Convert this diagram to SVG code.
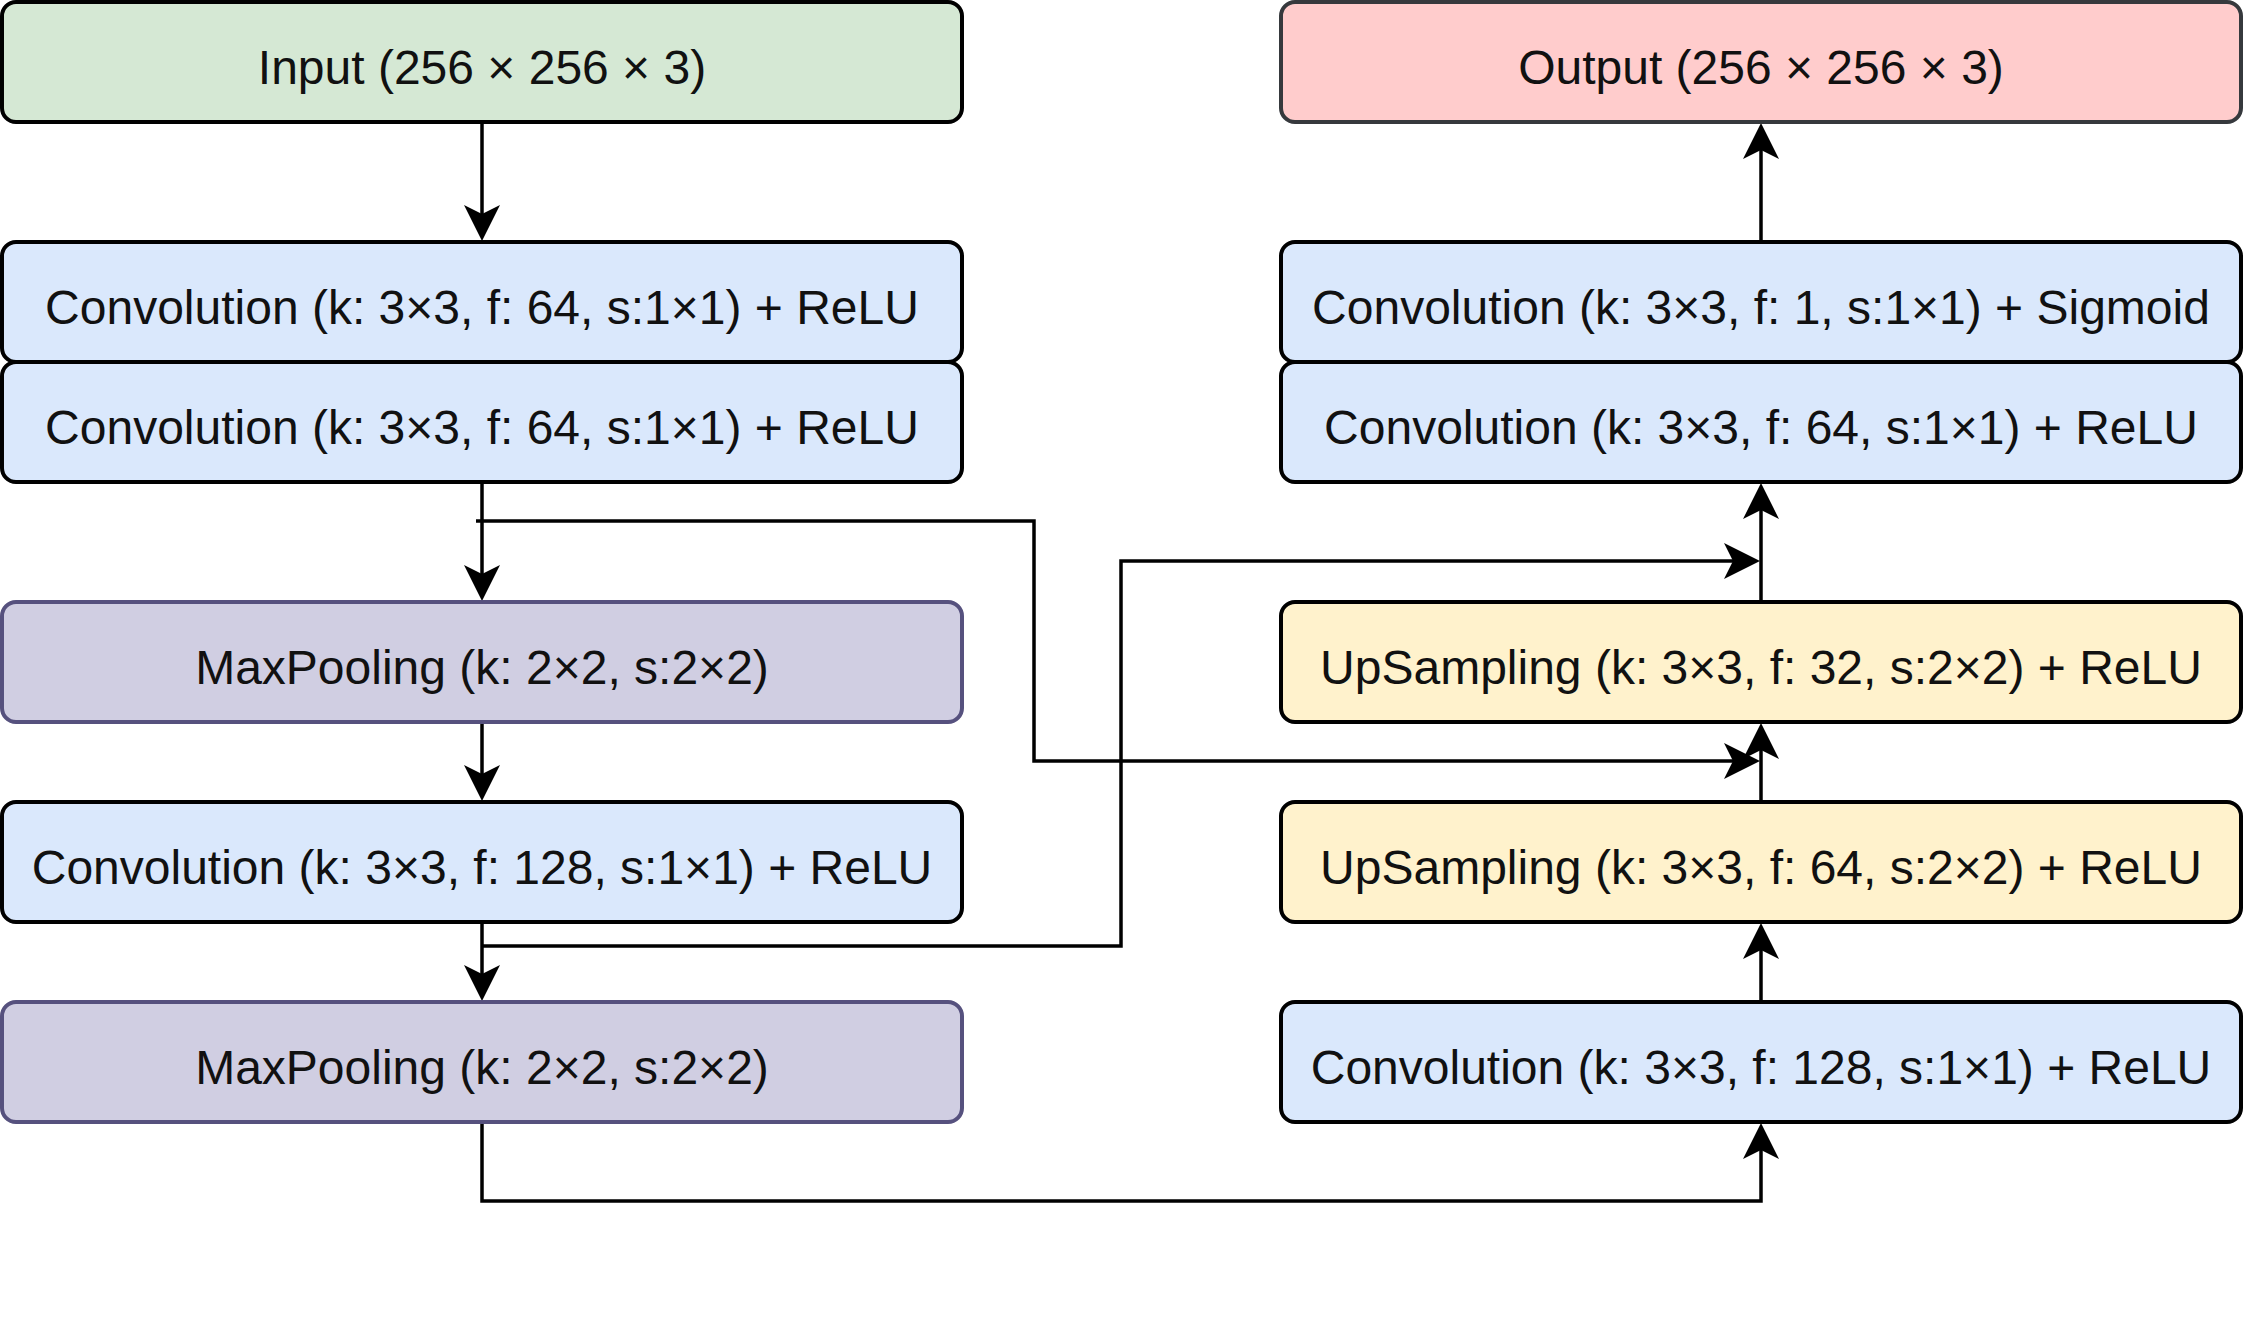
<svg xmlns="http://www.w3.org/2000/svg" width="2244" height="1324" viewBox="0 0 2244 1324">
<style>
.box{stroke-width:4}
.conv{fill:#dae8fc;stroke:#000}
.inp{fill:#d5e8d4;stroke:#000}
.out{fill:#ffcccc;stroke:#36393d}
.pool{fill:#d0cee2;stroke:#56517e}
.up{fill:#fff2cc;stroke:#000}
text{font-family:"Liberation Sans",Arial,sans-serif;font-size:48px;fill:#111;text-anchor:middle}
.edge{fill:none;stroke:#000;stroke-width:3.5}
</style>
<defs>
<marker id="arr" viewBox="-18 -19 40 38" refX="0" refY="0" markerWidth="40" markerHeight="38" markerUnits="userSpaceOnUse" orient="auto">
<path d="M20,0 L-16,-18 L-7,0 L-16,18 Z" fill="#000"/>
</marker>
</defs>
<rect width="2244" height="1324" fill="#fff"/>
<g id="connectors">
<path class="edge" d="M482,122 V221" marker-end="url(#arr)"/>
<path class="edge" d="M482,482 V581" marker-end="url(#arr)"/>
<path class="edge" d="M482,722 V781" marker-end="url(#arr)"/>
<path class="edge" d="M482,922 V981" marker-end="url(#arr)"/>
<path class="edge" d="M1761,242 V143" marker-end="url(#arr)"/>
<path class="edge" d="M1761,602 V503" marker-end="url(#arr)"/>
<path class="edge" d="M1761,802 V743" marker-end="url(#arr)"/>
<path class="edge" d="M1761,1002 V943" marker-end="url(#arr)"/>
<path class="edge" d="M476,521 H1034 V761 H1740" marker-end="url(#arr)"/>
<path class="edge" d="M482,946 H1121 V561 H1740" marker-end="url(#arr)"/>
<path class="edge" d="M482,1122 V1201 H1761 V1143" marker-end="url(#arr)"/>
</g>
<g id="input"><rect class="box inp" x="2" y="2" width="960" height="120" rx="14"/><text x="482" y="84">Input (256 × 256 × 3)</text></g>
<g id="conv1"><rect class="box conv" x="2" y="242" width="960" height="120" rx="14"/><text x="482" y="324">Convolution (k: 3×3, f: 64, s:1×1) + ReLU</text></g>
<g id="conv2"><rect class="box conv" x="2" y="362" width="960" height="120" rx="14"/><text x="482" y="444">Convolution (k: 3×3, f: 64, s:1×1) + ReLU</text></g>
<g id="pool1"><rect class="box pool" x="2" y="602" width="960" height="120" rx="14"/><text x="482" y="684">MaxPooling (k: 2×2, s:2×2)</text></g>
<g id="conv3"><rect class="box conv" x="2" y="802" width="960" height="120" rx="14"/><text x="482" y="884">Convolution (k: 3×3, f: 128, s:1×1) + ReLU</text></g>
<g id="pool2"><rect class="box pool" x="2" y="1002" width="960" height="120" rx="14"/><text x="482" y="1084">MaxPooling (k: 2×2, s:2×2)</text></g>
<g id="output"><rect class="box out" x="1281" y="2" width="960" height="120" rx="14"/><text x="1761" y="84">Output (256 × 256 × 3)</text></g>
<g id="conv_sig"><rect class="box conv" x="1281" y="242" width="960" height="120" rx="14"/><text x="1761" y="324">Convolution (k: 3×3, f: 1, s:1×1) + Sigmoid</text></g>
<g id="conv4"><rect class="box conv" x="1281" y="362" width="960" height="120" rx="14"/><text x="1761" y="444">Convolution (k: 3×3, f: 64, s:1×1) + ReLU</text></g>
<g id="up32"><rect class="box up" x="1281" y="602" width="960" height="120" rx="14"/><text x="1761" y="684">UpSampling (k: 3×3, f: 32, s:2×2) + ReLU</text></g>
<g id="up64"><rect class="box up" x="1281" y="802" width="960" height="120" rx="14"/><text x="1761" y="884">UpSampling (k: 3×3, f: 64, s:2×2) + ReLU</text></g>
<g id="conv5"><rect class="box conv" x="1281" y="1002" width="960" height="120" rx="14"/><text x="1761" y="1084">Convolution (k: 3×3, f: 128, s:1×1) + ReLU</text></g>
</svg>
